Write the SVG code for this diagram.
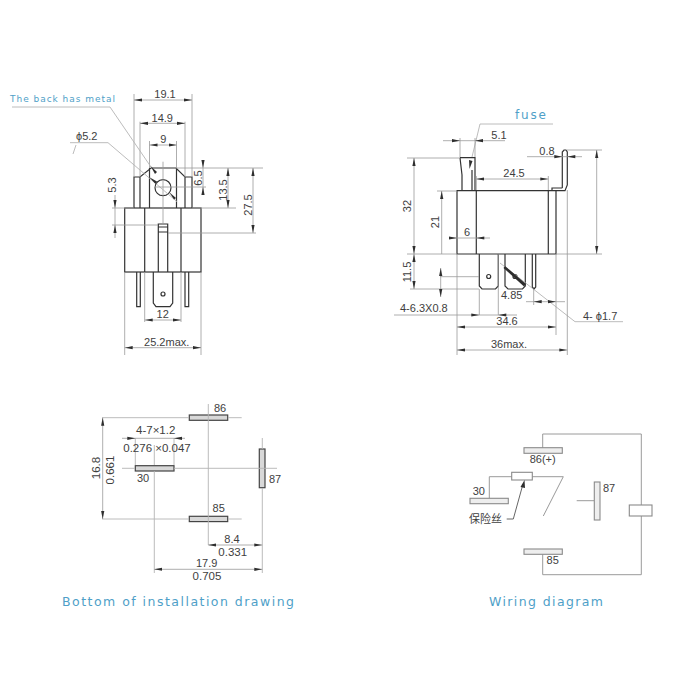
<svg xmlns="http://www.w3.org/2000/svg" width="700" height="700" viewBox="0 0 700 700">
<style>
text{font-family:"Liberation Sans",Arial,sans-serif;font-size:11px;fill:#3e3e3e}
.m{text-anchor:middle}
.big{font-size:11.500px}
.cap{font-family:"DejaVu Sans",sans-serif;fill:#4f9fc8}
.o{fill:none;stroke:#333;stroke-width:1.200}
.p{fill:#d8d8d8;stroke:#444;stroke-width:1.200}
.w{fill:#eee;stroke:#8a8a8a;stroke-width:1.100}
.wb{fill:#fff;stroke:#8a8a8a;stroke-width:1.100}
.wl{fill:none;stroke:#9a9a9a;stroke-width:1}
.d{fill:none;stroke:#999;stroke-width:.8}
.l{fill:none;stroke:#b4b4b4;stroke-width:.9}
.h{fill:#2e2e2e}
</style>
<defs>
<marker id="e" markerUnits="userSpaceOnUse" markerWidth="8" markerHeight="4" viewBox="0 0 8 4" refX="8" refY="2" orient="auto"><path d="M0 .4L8 2L0 3.600Z" fill="#2e2e2e"/></marker>
<marker id="s" markerUnits="userSpaceOnUse" markerWidth="8" markerHeight="4" viewBox="0 0 8 4" refX="0" refY="2" orient="auto"><path d="M8 .4L0 2L8 3.600Z" fill="#2e2e2e"/></marker>
</defs>

<g id="front-view">
<path class="o" d="M134 208V177H140L151 168H176L185 177H192V208M140 177V208M149.500 168V208M176.500 168V208M185 177V208"/>
<circle class="o" cx="163" cy="187.700" r="8"/>
<rect class="o" x="124.700" y="208" width="76.300" height="64"/>
<path class="o" d="M144.700 208V272M181 208V272"/>
<path class="o" d="M158.300 272V224H167.700V272M158.300 227H167.700M158.300 232H167.700"/>
<path class="o" d="M153.300 272V303L156 306.700H170L172.700 303V272"/>
<path class="o" d="M136.700 272V306.700H140.300V272M185 272V306.700H188.700V272"/>
<circle class="o" cx="163" cy="294" r="2"/>
</g>

<g id="side-view">
<path class="o" d="M460 157.700H475V190.700M460 157.700L462 175V190.700M472 170V190.700"/>
<path class="o" d="M562.300 188V152L564 150H566L567.300 152V185L565 190.700H457V254H556V190.700M552 190.700V188H562.300"/>
<path class="o" d="M476.300 190.700V254M548.300 190.700V254"/>
<path class="o" d="M479.300 254V286L482 289H495.500L498.300 286V254M505 254V286L508 289H522.500L525.300 286V254M532.300 254V287L534 289L535.700 287V254"/>
<circle class="o" cx="488.700" cy="276.500" r="2"/>
<circle class="o" cx="515" cy="276.500" r="2"/>
</g>

<g id="terminals-layout">
<rect id="pin-86" class="p" x="189.300" y="415" width="38.400" height="5.300"/>
<rect id="pin-30" class="p" x="135.300" y="465.700" width="38.700" height="5.300"/>
<rect id="pin-85" class="p" x="189.300" y="516.300" width="38.400" height="5.300"/>
<rect id="pin-87" class="p" x="259.300" y="449" width="5.700" height="38.700"/>
</g>

<g id="wiring">
<path class="wl" d="M542.700 448V434H641.300V505M641.300 516V574.700H542.700V554.300"/>
<path class="wl" d="M489.300 498V476.700H563.300L543.300 516M576.700 500.700H594"/>
<rect id="w-86" class="w" x="524" y="447.700" width="38.300" height="5.600"/>
<rect id="w-85" class="w" x="524" y="549" width="38.300" height="5.300"/>
<rect id="w-30" class="w" x="470" y="498.300" width="38.300" height="5.400"/>
<rect id="w-87" class="w" x="594.300" y="482" width="5.700" height="38"/>
<rect id="w-fuse" class="wb" x="511.700" y="472.300" width="20.600" height="7.700"/>
<rect id="w-coil" class="wb" x="629.300" y="505" width="22.700" height="11"/>
<path class="wl" d="M506.700 519H513.300L523 484" style="stroke:#666"/>
<path class="h" d="M524.500 480L525 488L520.500 487Z"/>
</g>

<g id="connectors">
<!-- front view -->
<path class="d" d="M134 94V177M192 94V177M140 121.700V177M185 121.700V177M149.500 141V168M176.500 141V168M163 161.700V224"/>
<path class="d" marker-start="url(#s)" marker-end="url(#e)" d="M134 100H192"/>
<path class="d" marker-start="url(#s)" marker-end="url(#e)" d="M140 123.300H185"/>
<path class="d" marker-start="url(#s)" marker-end="url(#e)" d="M149.500 145H176.500"/>
<path class="l" d="M12 107H110L151 167M70 142.700H108L177 201.700M73 154L76 145"/>
<path class="h" d="M150.500 166L157 172L155 174Z"/>
<path class="h" d="M149 177L157 181.500L155.500 184Z"/>
<path class="h" d="M169 192L176 198L174 199.500Z"/>
<path class="d" d="M176 168H263M192 208H236M155 187H206M112 208H134M112 225H158M168 233H256"/>
<path class="d" d="M115 195V238M203 161V194"/>
<path class="h" d="M115 208L113.400 200H116.600ZM115 225L113.400 233H116.600ZM203 168L201.400 160H204.600ZM203 187L201.400 195H204.600Z"/>
<path class="d" marker-start="url(#s)" marker-end="url(#e)" d="M228 168V208"/>
<path class="d" marker-start="url(#s)" marker-end="url(#e)" d="M253 168V233"/>
<path class="d" d="M144.700 272V322M181 272V322M124.700 272V355M201 272V355"/>
<path class="d" marker-start="url(#s)" marker-end="url(#e)" d="M144.700 320H181"/>
<path class="d" marker-start="url(#s)" marker-end="url(#e)" d="M124.700 347.700H201"/>

<!-- side view -->
<path class="l" d="M553 124H480L472 157"/>
<path class="h" d="M469 160L472.500 161L469.500 169Z"/>
<path class="d" d="M460 138V157M475 138V157M443 140.700H505M527 156.700H582"/>
<path class="h" d="M460 140.700L452 139.100V142.300ZM475 140.700L483 139.100V142.300ZM562.300 156.700L554.300 155.100V158.300ZM567.300 156.700L575.300 155.100V158.300Z"/>
<path class="d" d="M407 158H460M437 191H457M407 254H457M567 150H602M556 254H602M440 276.700H479M410 289H479M476.300 176V190M548.300 176V190"/>
<path class="d" marker-start="url(#s)" marker-end="url(#e)" d="M414 158V254"/>
<path class="d" marker-start="url(#s)" d="M441.700 191V254"/>
<path class="d" marker-start="url(#s)" marker-end="url(#e)" d="M476.300 179H548.300"/>
<path class="d" marker-start="url(#s)" marker-end="url(#e)" d="M596.700 150V254"/>
<path class="d" marker-start="url(#s)" marker-end="url(#e)" d="M414 254V289"/>
<path class="d" marker-start="url(#s)" marker-end="url(#e)" d="M440.700 268V297"/>
<path class="d" d="M450 238H490"/>
<path class="h" d="M457 238L449 236.400V239.600ZM476.300 238L484.300 236.400V239.600Z"/>
<path class="l" d="M500 263L575 321.700H623"/>
<path class="h" d="M505 266L526 284L524 286.500L503.500 268Z"/>
<path class="d" d="M479.300 289V315M498.300 254V315M394 315H517M533.700 289V305M556 254V335M567.300 190V355M457 254V355"/>
<path class="h" d="M479.300 315L471.300 313.400V316.600ZM498.300 315L506.300 313.400V316.600Z"/>
<path class="d" d="M526 301.700H565"/>
<path class="h" d="M533.700 301.700L541.700 300.100V303.300ZM556 301.700L548 300.100V303.300Z"/>
<path class="d" marker-start="url(#s)" marker-end="url(#e)" d="M457 327H556"/>
<path class="d" marker-start="url(#s)" marker-end="url(#e)" d="M457 350H567.300"/>

<!-- terminal layout -->
<path class="l" d="M102 417.700H189M228 417.700H241.700M122 468.300H135M174 468.300H277M102 519H189M228 519H241.700M208.300 404V545M262.300 438V449M262.300 488V573M154.300 445V465M154.300 471V573M135.300 438V465M174 438V465"/>
<path class="d" marker-start="url(#s)" marker-end="url(#e)" d="M102.700 417.700V519"/>
<path class="d" d="M122 438.300H185"/>
<path class="h" d="M135.300 438.300L127.300 436.700V439.900ZM174 438.300L182 436.700V439.900Z"/>
<path class="d" marker-start="url(#s)" marker-end="url(#e)" d="M208.300 545H262.300"/>
<path class="d" marker-start="url(#s)" marker-end="url(#e)" d="M154.300 569.300H262.300"/>
</g>

<g id="labels">
<text class="cap" x="10" y="102" textLength="105" style="font-size:9px">The back has metal</text>
<text class="cap" x="515" y="119" textLength="31" style="font-size:12px">fuse</text>
<text class="cap" x="62" y="606" textLength="232" style="font-size:12.500px">Bottom of installation drawing</text>
<text class="cap" x="489" y="606" textLength="114" style="font-size:12.500px">Wiring diagram</text>

<text class="m" x="165" y="98">19.1</text>
<text class="m" x="162.300" y="122">14.9</text>
<text class="m" x="163.300" y="143">9</text>
<text x="76" y="140">ϕ5.2</text>
<text class="m" transform="translate(116 185) rotate(-90)">5.3</text>
<text class="m" transform="translate(202 178) rotate(-90)">6.5</text>
<text class="m" transform="translate(227 190) rotate(-90)">13.5</text>
<text class="m" transform="translate(252 205) rotate(-90)">27.5</text>
<text class="m" x="162.700" y="318">12</text>
<text class="m" x="166.700" y="346">25.2max.</text>

<text class="m" x="499" y="139">5.1</text>
<text class="m" x="547" y="155">0.8</text>
<text class="m" x="514" y="177">24.5</text>
<text class="m" transform="translate(411 206) rotate(-90)">32</text>
<text class="m" transform="translate(439 222) rotate(-90)">21</text>
<text class="m" x="467" y="236">6</text>
<text class="m" transform="translate(411 272) rotate(-90)">11.5</text>
<text x="400" y="312">4-6.3X0.8</text>
<text class="m" x="511.700" y="299">4.85</text>
<text class="m" x="507" y="325">34.6</text>
<text class="m" x="509" y="348">36max.</text>
<text x="583" y="320">4- ϕ1.7</text>

<text class="m" x="220" y="412">86</text>
<text class="m big" x="155.700" y="434">4-7×1.2</text>
<text class="m big" x="157" y="452">0.276 ×0.047</text>
<text class="m" x="143" y="482">30</text>
<text x="269" y="483">87</text>
<text class="m" x="218.700" y="512">85</text>
<text class="m big" transform="translate(100 468) rotate(-90)">16.8</text>
<text class="m big" transform="translate(114 470) rotate(-90)">0.661</text>
<text class="m" x="232" y="543">8.4</text>
<text class="m big" x="232.700" y="556">0.331</text>
<text class="m" x="206.700" y="567">17.9</text>
<text class="m big" x="207" y="580">0.705</text>

<text class="m" x="542.700" y="463">86(+)</text>
<text x="472.700" y="495">30</text>
<text x="603" y="492">87</text>
<text class="m" x="552.700" y="564">85</text>
<text x="469" y="523" style="font-family:'Liberation Sans','Noto Sans CJK SC',sans-serif">保险丝</text>
</g>
</svg>
